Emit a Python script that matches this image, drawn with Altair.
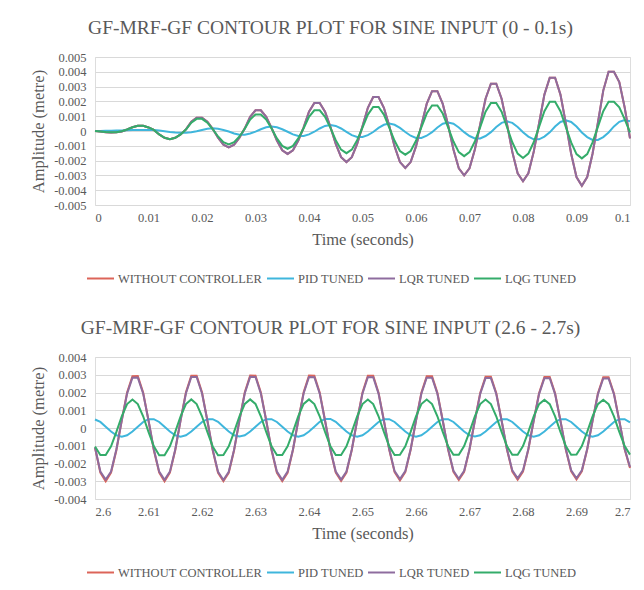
import altair as alt
import pandas as pd

FONT = "'Liberation Serif', 'Times New Roman', 'DejaVu Serif', serif"
GRAY = "#595959"

series_names = ["WITHOUT CONTROLLER", "PID TUNED", "LQR TUNED", "LQG TUNED"]
series_colors = ["#DC6459", "#3FB6DC", "#8E6C9E", "#34AC6A"]

# ---------------- top panel (0 - 0.1 s), sampled every 0.001 s ----------------
time_top = [round(i * 0.001, 3) for i in range(101)]

lqr_top = [
    0, -0.00003, -0.00008, -0.0001, -0.00009, -0.00003, 0.0001, 0.00025, 0.00035, 0.00035, 0.00024,
    0.00007, -0.00023, -0.00046, -0.00055, -0.00046, -0.00023, 0.00011, 0.00062, 0.0009, 0.0009, 0.00062,
    0.00015, -0.00046, -0.00093, -0.0011, -0.00093, -0.00046, 0.00018, 0.00096, 0.0014, 0.0014, 0.00096,
    0.00021, -0.00064, -0.0013, -0.00155, -0.0013, -0.00064, 0.00025, 0.0013, 0.0019, 0.0019, 0.0013,
    0.00029, -0.00087, -0.00177, -0.0021, -0.00177, -0.00087, 0.00032, 0.00157, 0.0023, 0.0023, 0.00157,
    0.00035, -0.00104, -0.0021, -0.0025, -0.0021, -0.00104, 0.00038, 0.00183, 0.00269, 0.00269, 0.00183,
    0.00041, -0.00125, -0.00252, -0.003, -0.00252, -0.00125, 0.00045, 0.00218, 0.0032, 0.0032, 0.00218,
    0.00048, -0.00141, -0.00286, -0.0034, -0.00286, -0.00141, 0.00051, 0.00246, 0.0036, 0.0036, 0.00246,
    0.00053, -0.00154, -0.00311, -0.0037, -0.00311, -0.00154, 0.00056, 0.00273, 0.004, 0.004, 0.0033,
    0.0016, -0.0005,
]

without_top = [
    0, -0.00003, -0.00008, -0.0001, -0.00009, -0.00003, 0.0001, 0.00025, 0.00035, 0.00035, 0.00024,
    0.00007, -0.00023, -0.00046, -0.00055, -0.00046, -0.00023, 0.00011, 0.00062, 0.0009, 0.0009, 0.00062,
    0.00015, -0.00046, -0.00093, -0.0011, -0.00093, -0.00046, 0.00018, 0.00096, 0.0014, 0.0014, 0.00096,
    0.00021, -0.00064, -0.0013, -0.00155, -0.0013, -0.00064, 0.00025, 0.0013, 0.0019, 0.0019, 0.0013,
    0.00029, -0.00087, -0.00177, -0.0021, -0.00177, -0.00087, 0.00032, 0.00157, 0.0023, 0.0023, 0.00157,
    0.00035, -0.00104, -0.0021, -0.0025, -0.0021, -0.00104, 0.00038, 0.00183, 0.00269, 0.00269, 0.00183,
    0.00041, -0.00125, -0.00252, -0.003, -0.00252, -0.00125, 0.00045, 0.00218, 0.0032, 0.0032, 0.00218,
    0.00048, -0.00141, -0.00286, -0.0034, -0.00286, -0.00141, 0.00051, 0.00246, 0.0036, 0.0036, 0.00246,
    0.00053, -0.00154, -0.00311, -0.0037, -0.00311, -0.00154, 0.00056, 0.00273, 0.004, 0.004, 0.0033,
    0.0016, -0.0005,
]

lqg_top = [
    0, -0.00003, -0.00007, -0.00009, -0.00008, -0.00002, 0.0001, 0.00025, 0.00035, 0.00035, 0.00024,
    0.00007, -0.00023, -0.00046, -0.00055, -0.00046, -0.00023, 0.0001, 0.00056, 0.00082, 0.00082, 0.00056,
    0.00012, -0.00037, -0.00076, -0.0009, -0.00076, -0.00037, 0.00015, 0.00077, 0.00112, 0.00112, 0.00077,
    0.00017, -0.0005, -0.00101, -0.0012, -0.00101, -0.0005, 0.00019, 0.00096, 0.0014, 0.0014, 0.00096,
    0.00021, -0.00062, -0.00126, -0.0015, -0.00126, -0.00062, 0.00023, 0.00111, 0.00163, 0.00163, 0.00111,
    0.00023, -0.00066, -0.00135, -0.0016, -0.00135, -0.00066, 0.00024, 0.00118, 0.00173, 0.00173, 0.00118,
    0.00025, -0.00071, -0.00143, -0.0017, -0.00143, -0.00071, 0.00026, 0.0013, 0.0019, 0.0019, 0.0013,
    0.00027, -0.00076, -0.00153, -0.00182, -0.00153, -0.00076, 0.00028, 0.00134, 0.00197, 0.00197, 0.00134,
    0.00028, -0.00077, -0.00156, -0.00185, -0.00156, -0.00077, 0.00028, 0.00134, 0.00197, 0.00197, 0.0016,
    0.0008, -0.0001,
]

pid_top = [
    0, 0, 0.00001, 0.00002, 0.00003, 0.00004, 0.00005, 0.00006, 0.00007, 0.00007, 0.00007,
    0.00006, 0.00003, -0.00001, -0.00006, -0.0001, -0.00012, -0.00012, -0.00009, -0.00002, 0.00007, 0.00015,
    0.00018, 0.00015, 0.00007, -0.00003, -0.00017, -0.00025, -0.00025, -0.00017, -0.00004, 0.00012, 0.00025,
    0.0003, 0.00025, 0.00012, -0.00005, -0.00023, -0.00034, -0.00034, -0.00023, -0.00005, 0.00017, 0.00034,
    0.0004, 0.00034, 0.00017, -0.00006, -0.00028, -0.0004, -0.0004, -0.00028, -0.00007, 0.00021, 0.00042,
    0.0005, 0.00042, 0.00021, -0.00007, -0.00032, -0.00047, -0.00047, -0.00032, -0.00008, 0.00024, 0.00049,
    0.00058, 0.00049, 0.00024, -0.00008, -0.00034, -0.0005, -0.0005, -0.00034, -0.00008, 0.00027, 0.00055,
    0.00065, 0.00055, 0.00027, -0.00009, -0.00038, -0.00056, -0.00056, -0.00038, -0.00009, 0.0003, 0.00061,
    0.00072, 0.00061, 0.0003, -0.0001, -0.00041, -0.0006, -0.0006, -0.00041, -0.0001, 0.00031, 0.00062,
    0.00074, 0.00066,
]

# ---------------- bottom panel (2.6 - 2.7 s) ----------------
time_bottom = [round(2.6 + i * 0.001, 3) for i in range(101)]

without_bottom = [
    -0.0011, -0.00252, -0.003, -0.00252, -0.00125, 0.00043, 0.002, 0.00292, 0.00293, 0.002, 0.00043,
    -0.00125, -0.00252, -0.003, -0.00252, -0.00125, 0.00044, 0.00201, 0.00295, 0.00295, 0.00201, 0.00043,
    -0.00125, -0.00253, -0.003, -0.00253, -0.00125, 0.00043, 0.00201, 0.00296, 0.00295, 0.002, 0.00043,
    -0.00125, -0.00252, -0.00299, -0.00252, -0.00124, 0.00043, 0.00201, 0.00295, 0.00294, 0.002, 0.00042,
    -0.00124, -0.00251, -0.00298, -0.00251, -0.00124, 0.00043, 0.002, 0.00294, 0.00294, 0.00199, 0.00042,
    -0.00123, -0.00249, -0.00295, -0.00249, -0.00123, 0.00042, 0.00198, 0.00291, 0.00291, 0.00198, 0.00042,
    -0.00122, -0.00247, -0.00293, -0.00247, -0.00122, 0.00042, 0.00197, 0.00289, 0.00289, 0.00197, 0.00042,
    -0.00121, -0.00245, -0.00291, -0.00245, -0.00121, 0.00042, 0.00196, 0.00287, 0.00287, 0.00196, 0.00041,
    -0.00121, -0.00244, -0.0029, -0.00244, -0.00121, 0.00041, 0.00195, 0.00286, 0.00286, 0.00195, 0.00041,
    -0.0012, -0.00225,
]

lqr_bottom = [
    -0.0011, -0.00245, -0.0029, -0.00245, -0.0012, 0.00042, 0.00194, 0.00283, 0.00284, 0.00195, 0.00042,
    -0.00121, -0.00246, -0.00292, -0.00246, -0.00121, 0.00043, 0.00196, 0.00287, 0.00287, 0.00196, 0.00042,
    -0.00122, -0.00247, -0.00293, -0.00247, -0.00122, 0.00042, 0.00196, 0.00288, 0.00287, 0.00195, 0.00042,
    -0.00122, -0.00246, -0.00292, -0.00246, -0.00121, 0.00042, 0.00196, 0.00287, 0.00286, 0.00195, 0.00041,
    -0.00121, -0.00245, -0.00291, -0.00245, -0.00121, 0.00042, 0.00195, 0.00286, 0.00286, 0.00194, 0.00041,
    -0.0012, -0.00243, -0.00288, -0.00243, -0.0012, 0.00041, 0.00193, 0.00283, 0.00283, 0.00193, 0.00041,
    -0.00119, -0.00241, -0.00286, -0.00241, -0.00119, 0.00041, 0.00192, 0.00281, 0.00281, 0.00192, 0.00041,
    -0.00118, -0.00239, -0.00284, -0.00239, -0.00118, 0.00041, 0.00191, 0.0028, 0.0028, 0.00191, 0.0004,
    -0.00118, -0.00238, -0.00283, -0.00238, -0.00118, 0.0004, 0.0019, 0.00279, 0.00279, 0.0019, 0.0004,
    -0.00117, -0.0022,
]

lqg_bottom = [
    -0.00104, -0.00152, -0.00152, -0.00103, -0.00022, 0.00066, 0.00135, 0.0016, 0.00135, 0.00066, -0.00022,
    -0.00103, -0.00153, -0.00153, -0.00103, -0.00022, 0.00066, 0.00135, 0.00161, 0.00135, 0.00066, -0.00022,
    -0.00104, -0.00153, -0.00152, -0.00103, -0.00022, 0.00066, 0.00136, 0.00161, 0.00136, 0.00066, -0.00022,
    -0.00103, -0.00152, -0.00152, -0.00103, -0.00022, 0.00067, 0.00136, 0.00161, 0.00135, 0.00066, -0.00022,
    -0.00103, -0.00152, -0.00152, -0.00103, -0.00022, 0.00066, 0.00135, 0.0016, 0.00135, 0.00066, -0.00022,
    -0.00103, -0.00152, -0.00151, -0.00103, -0.00022, 0.00066, 0.00135, 0.0016, 0.00135, 0.00066, -0.00022,
    -0.00103, -0.00151, -0.00151, -0.00102, -0.00022, 0.00066, 0.00135, 0.0016, 0.00135, 0.00066, -0.00022,
    -0.00102, -0.00151, -0.00151, -0.00102, -0.00022, 0.00066, 0.00134, 0.00159, 0.00134, 0.00065, -0.00022,
    -0.00102, -0.00151, -0.0015, -0.00102, -0.00022, 0.00065, 0.00134, 0.00159, 0.00134, 0.00065, -0.00022,
    -0.00102, -0.0015,
]

pid_bottom = [
    0.00048, 0.00034, 0.00007, -0.0002, -0.00041, -0.00049, -0.00041, -0.0002, 0.00007, 0.00034, 0.0005,
    0.0005, 0.00034, 0.00007, -0.0002, -0.00041, -0.00049, -0.00041, -0.0002, 0.00007, 0.00034, 0.0005,
    0.0005, 0.00035, 0.00007, -0.0002, -0.00041, -0.00048, -0.00041, -0.0002, 0.00007, 0.00034, 0.0005,
    0.0005, 0.00034, 0.00007, -0.0002, -0.00041, -0.00049, -0.00041, -0.0002, 0.00007, 0.00035, 0.00051,
    0.00051, 0.00035, 0.00007, -0.0002, -0.00041, -0.00049, -0.00041, -0.0002, 0.00007, 0.00034, 0.0005,
    0.0005, 0.00034, 0.00007, -0.0002, -0.00041, -0.00049, -0.00041, -0.0002, 0.00007, 0.00034, 0.0005,
    0.0005, 0.00034, 0.00007, -0.0002, -0.00041, -0.00048, -0.00041, -0.0002, 0.00007, 0.00034, 0.0005,
    0.0005, 0.00034, 0.00007, -0.0002, -0.00041, -0.00049, -0.00041, -0.0002, 0.00007, 0.00034, 0.0005,
    0.0005, 0.00034, 0.00007, -0.0002, -0.00041, -0.00049, -0.00041, -0.0002, 0.00007, 0.00034, 0.0005,
    0.0005, 0.00032,
]

x_ticks_top = [0, 0.01, 0.02, 0.03, 0.04, 0.05, 0.06, 0.07, 0.08, 0.09, 0.1]
y_ticks_top = [-0.005, -0.004, -0.003, -0.002, -0.001, 0, 0.001, 0.002, 0.003, 0.004, 0.005]
x_ticks_bottom = [2.6, 2.61, 2.62, 2.63, 2.64, 2.65, 2.66, 2.67, 2.68, 2.69, 2.7]
y_ticks_bottom = [-0.004, -0.003, -0.002, -0.001, 0, 0.001, 0.002, 0.003, 0.004]

Y_LABEL_EXPR = ("datum.value == 0 ? '0' : (datum.value < 0 ? '-' + format(-datum.value, '.3f')"
                " : format(datum.value, '.3f'))")


def panel(time, series_values, title_text, x_dom, x_ticks, y_dom, y_ticks, w, h, legend_y):
    frames = [pd.DataFrame({"time": time, "amp": vals, "series": name})
              for name, vals in zip(series_names, series_values)]
    df = pd.concat(frames, ignore_index=True)
    base = alt.Chart(df)
    x = alt.X("time:Q",
              scale=alt.Scale(domain=x_dom, nice=False, zero=False),
              axis=alt.Axis(values=x_ticks, format=".2~f", title="Time (seconds)",
                            grid=False, domain=False, ticks=False, labelPadding=6,
                            titlePadding=8, labelFontSize=12.5, titleFontSize=16.5,
                            labelFont=FONT, titleFont=FONT, labelColor=GRAY, titleColor=GRAY,
                            titleFontWeight="normal"))
    y = alt.Y("amp:Q",
              scale=alt.Scale(domain=y_dom, nice=False, zero=False),
              axis=alt.Axis(values=y_ticks, labelExpr=Y_LABEL_EXPR, title="Amplitude (metre)",
                            grid=True, gridColor="#D9D9D9", gridWidth=1, domain=False, ticks=False,
                            labelPadding=9, titlePadding=7, labelFontSize=12.5, titleFontSize=16.5,
                            labelFont=FONT, titleFont=FONT, labelColor=GRAY, titleColor=GRAY,
                            titleFontWeight="normal"))
    color = alt.Color("series:N",
                      scale=alt.Scale(domain=series_names, range=series_colors),
                      legend=alt.Legend(title=None, orient="none", legendX=-9, legendY=legend_y,
                                        direction="horizontal", symbolType="stroke",
                                        symbolSize=729, symbolStrokeWidth=2, labelFont=FONT,
                                        labelFontSize=12.5, labelColor=GRAY, labelOffset=3,
                                        columnPadding=0, padding=0, labelLimit=400))
    layers = [
        base.transform_filter(alt.datum.series == name)
        .mark_line(strokeWidth=2, interpolate="linear")
        .encode(x=x, y=y, color=color)
        for name in series_names
    ]
    return alt.layer(*layers).properties(
        width=w, height=h,
        title=alt.TitleParams(text=title_text, font=FONT, fontSize=19.5, fontWeight="normal",
                              color=GRAY, anchor="middle", dx=-32, offset=13),
    )


top = panel(time_top, [without_top, pid_top, lqr_top, lqg_top],
            "GF-MRF-GF CONTOUR PLOT FOR SINE INPUT (0 - 0.1s)",
            [0, 0.1], x_ticks_top, [-0.005, 0.005], y_ticks_top, 535, 148, 207)
bottom = panel(time_bottom, [without_bottom, pid_bottom, lqr_bottom, lqg_bottom],
               "GF-MRF-GF CONTOUR PLOT FOR SINE INPUT (2.6 - 2.7s)",
               [2.6, 2.7], x_ticks_bottom, [-0.004, 0.004], y_ticks_bottom, 535, 142, 201)

chart = (
    alt.vconcat(top, bottom, spacing=31)
    .resolve_scale(color="independent")
    .resolve_legend(color="independent")
    .properties(padding={"left": 22, "top": 9, "right": 0, "bottom": 0})
    .configure_view(stroke=None)
    .configure(font=FONT)
)

chart.save("out.html", embed_options={"renderer": "svg", "actions": False})
